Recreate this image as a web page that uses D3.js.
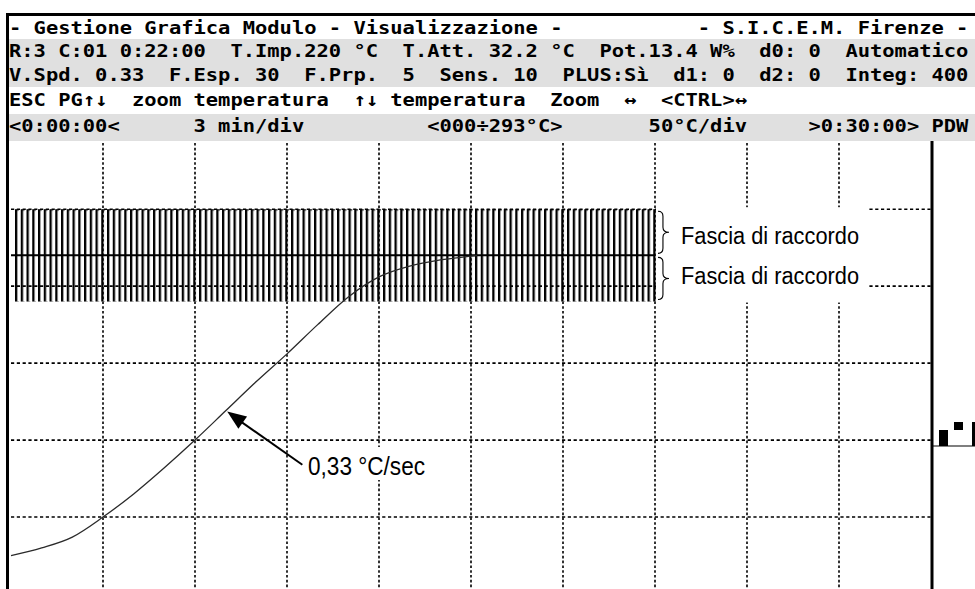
<!DOCTYPE html>
<html>
<head>
<meta charset="utf-8">
<script src="https://cdn.jsdelivr.net/npm/d3@7"></script>
<style>
  html, body { margin: 0; padding: 0; background: #fff; }
  svg { display: block; }
  .mono { font-family: "DejaVu Sans Mono", monospace; font-weight: bold; font-size: 18.5px; white-space: pre; }
  .note { font-family: "Liberation Sans", Arial, sans-serif; }
</style>
</head>
<body>
<svg id="chart" width="975" height="589"></svg>
<script>
// screen header, one string per text row (fixed 78 columns)
const headerRows = [
  "- Gestione Grafica Modulo - Visualizzazione -           - S.I.C.E.M. Firenze -",
  "R:3 C:01 0:22:00  T.Imp.220 °C  T.Att. 32.2 °C  Pot.13.4 W%  d0: 0  Automatico",
  "V.Spd. 0.33  F.Esp. 30  F.Prp.  5  Sens. 10  PLUS:Sì  d1: 0  d2: 0  Integ: 400",
  "ESC PG↑↓  zoom temperatura  ↑↓ temperatura  Zoom  ↔  <CTRL>↔",
  "<0:00:00<      3 min/div          <000÷293°C>       50°C/div     >0:30:00> PDW"
];
const headerShaded = [false, true, true, false, true];

// axes: 0..30 min (3 min/div), 0..293 °C (50 °C/div)
const timeDomain = [0, 30];
const tempDomain = [0, 293];
const timeTicks = [3, 6, 9, 12, 15, 18, 21, 24, 27];
const tempTicks = [50, 100, 150, 200, 250];

// temperature ramp (minutes, °C)
const rampMin  = [0, 1, 2, 3, 4, 5, 6, 7, 8, 9, 10, 11, 12, 13, 14, 15, 15.2];
const rampTemp = [25, 30, 37, 50, 65, 82, 100, 119, 138, 156, 175, 193, 206, 213, 217, 219.5, 220];

// set point and connection band (F.Esp. 30)
const setPoint = 220;
const bandHalf = 30;
const bandEnd = 21;

const bandLabel = "Fascia di raccordo";
const slopeLabel = "0,33 °C/sec";

const width = 975, height = 589;
const colW = 12.3, textX = 9;
const rowTop = [16, 39, 63, 87, 114];
const rowH = [23, 24, 24, 27, 27];
const rowBase = [34, 57, 81, 106, 132];
const plotTop = 141;

const svg = d3.select('#chart');

const x = d3.scaleLinear().domain(timeDomain).range([11, 931]);
const y = d3.scaleLinear().domain(tempDomain).range([594, 143]);

svg.append('rect').attr('width', width).attr('height', height).attr('fill', '#fff');

// header rows
const header = svg.append('g');
header.selectAll('rect')
  .data(headerRows.map((t, i) => i).filter(i => headerShaded[i]))
  .join('rect')
  .attr('x', 9).attr('width', width - 9)
  .attr('y', i => rowTop[i]).attr('height', i => rowH[i])
  .attr('fill', '#e0e0e0');

header.selectAll('text')
  .data(headerRows)
  .join('text')
  .attr('class', 'mono')
  .attr('x', textX)
  .attr('y', (d, i) => rowBase[i])
  .attr('textLength', d => d.length * colW)
  .attr('lengthAdjust', 'spacingAndGlyphs')
  .attr('fill', '#000')
  .text(d => d);

// plot area
const plot = svg.append('g');
plot.append('clipPath').attr('id', 'clip')
  .append('rect').attr('x', 9).attr('y', plotTop).attr('width', 922).attr('height', height - plotTop);

const grid = plot.append('g').attr('clip-path', 'url(#clip)');
grid.selectAll('line.h')
  .data(tempTicks)
  .join('line')
  .attr('class', 'h')
  .attr('x1', x(0)).attr('x2', x(30))
  .attr('y1', d => y(d)).attr('y2', d => y(d))
  .attr('stroke', '#000').attr('stroke-width', 1.6)
  .attr('stroke-dasharray', '3.2,2.6');

// hatched band around the set point
const bandTop = y(setPoint + bandHalf), bandBot = y(setPoint - bandHalf);
const defs = svg.append('defs');
const hatch = defs.append('pattern')
  .attr('id', 'hatch')
  .attr('patternUnits', 'userSpaceOnUse')
  .attr('x', 15).attr('y', bandTop)
  .attr('width', 5.75).attr('height', bandBot - bandTop);
hatch.append('rect').attr('x', 0).attr('y', 0).attr('width', 2.3).attr('height', bandBot - bandTop).attr('fill', '#000');
hatch.append('rect').attr('x', 0).attr('y', 0).attr('width', 3.8).attr('height', 1.3).attr('fill', '#000');

plot.append('rect')
  .attr('x', x(0) + 3).attr('y', bandTop)
  .attr('width', x(bandEnd) - x(0) - 1).attr('height', bandBot - bandTop)
  .attr('fill', 'url(#hatch)');

// vertical divisions drawn over the band, as on the screen
grid.selectAll('line.v')
  .data(timeTicks)
  .join('line')
  .attr('class', 'v')
  .attr('x1', d => x(d)).attr('x2', d => x(d))
  .attr('y1', plotTop + 2).attr('y2', height)
  .attr('stroke', '#000').attr('stroke-width', 1.6)
  .attr('stroke-dasharray', '2.6,2.2');

plot.append('line')
  .attr('x1', x(0)).attr('x2', x(bandEnd))
  .attr('y1', y(setPoint)).attr('y2', y(setPoint))
  .attr('stroke', '#000').attr('stroke-width', 2);

// temperature trace
const line = d3.line()
  .x(d => x(d[0]))
  .y(d => y(d[1]))
  .curve(d3.curveMonotoneX);

plot.append('path')
  .datum(rampMin.map((m, i) => [m, rampTemp[i]]))
  .attr('d', line)
  .attr('fill', 'none')
  .attr('stroke', '#2a2a2a')
  .attr('stroke-width', 1.3);

// band annotation (pasted label with white background)
const notes = svg.append('g');
notes.append('rect')
  .attr('x', x(bandEnd) + 1).attr('y', bandTop - 2)
  .attr('width', 212).attr('height', bandBot - bandTop + 3)
  .attr('fill', '#fff');

function brace(x0, y1, y2, w) {
  const ym = (y1 + y2) / 2, xm = x0 + w * 0.45, q = 5;
  const p = d3.path();
  p.moveTo(x0, y1);
  p.quadraticCurveTo(xm, y1, xm, y1 + q);
  p.lineTo(xm, ym - q);
  p.quadraticCurveTo(xm, ym, x0 + w, ym);
  p.quadraticCurveTo(xm, ym, xm, ym + q);
  p.lineTo(xm, y2 - q);
  p.quadraticCurveTo(xm, y2, x0, y2);
  return p.toString();
}

[[setPoint + bandHalf, setPoint, 244], [setPoint, setPoint - bandHalf, 284]].forEach(([t1, t2, base]) => {
  notes.append('path')
    .attr('d', brace(x(bandEnd) + 3, y(t1) + 2, y(t2) - 2, 11))
    .attr('fill', 'none').attr('stroke', '#000').attr('stroke-width', 1.1);
  notes.append('text')
    .attr('class', 'note')
    .attr('x', 681).attr('y', base)
    .attr('font-size', 23.5)
    .attr('textLength', 178).attr('lengthAdjust', 'spacingAndGlyphs')
    .attr('fill', '#000')
    .text(bandLabel);
});

// slope annotation
notes.append('rect')
  .attr('x', 291).attr('y', 447).attr('width', 141).attr('height', 33)
  .attr('fill', '#fff');
notes.append('text')
  .attr('class', 'note')
  .attr('x', 308).attr('y', 475)
  .attr('font-size', 26)
  .attr('textLength', 117).attr('lengthAdjust', 'spacingAndGlyphs')
  .attr('fill', '#000')
  .text(slopeLabel);

const tip = [x(7.05), y(118.5)], tail = [x(9.5), y(84)];
notes.append('line')
  .attr('x1', tail[0]).attr('y1', tail[1])
  .attr('x2', tip[0] + 8).attr('y2', tip[1] + 6)
  .attr('stroke', '#000').attr('stroke-width', 2);
notes.append('path')
  .attr('d', (() => {
    const dx = tail[0] - tip[0], dy = tail[1] - tip[1], L = Math.hypot(dx, dy);
    const ux = dx / L, uy = dy / L, hl = 19, hw = 7.5;
    const bx = tip[0] + ux * hl, by = tip[1] + uy * hl;
    return `M${tip[0]},${tip[1]}L${bx - uy * hw},${by + ux * hw}L${bx + uy * hw},${by - ux * hw}Z`;
  })())
  .attr('fill', '#000');

// frame
svg.append('rect').attr('x', 6).attr('y', 13).attr('width', width - 6).attr('height', 3).attr('fill', '#000');
svg.append('rect').attr('x', 6).attr('y', 13).attr('width', 3).attr('height', height - 13).attr('fill', '#000');
svg.append('rect').attr('x', x(30) - 0.5).attr('y', plotTop).attr('width', 3).attr('height', height - plotTop).attr('fill', '#000');

// small power indicator right of the plot
const pdw = svg.append('g');
pdw.append('rect').attr('x', x(30) + 2).attr('y', 445.5).attr('width', 45).attr('height', 1).attr('fill', '#000');
pdw.append('rect').attr('x', 939).attr('y', 430).attr('width', 9).attr('height', 16).attr('fill', '#000');
pdw.append('rect').attr('x', 954).attr('y', 422).attr('width', 9).attr('height', 8).attr('fill', '#000');
pdw.append('rect').attr('x', 972).attr('y', 422).attr('width', 3).attr('height', 24).attr('fill', '#000');
</script>
</body>
</html>
